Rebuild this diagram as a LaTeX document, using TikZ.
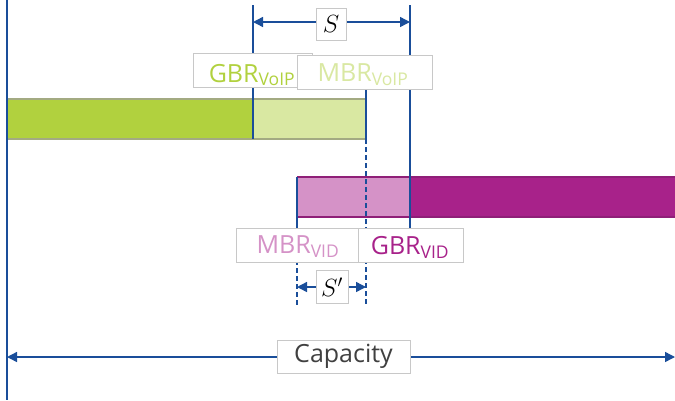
\documentclass[tikz,border=0pt]{standalone}
\usepackage{fontspec}
\setmainfont{Open Sans}
\usetikzlibrary{arrows.meta}

\definecolor{markblue}{HTML}{1A4E9A}
\definecolor{voipgbr}{HTML}{B1D13E}
\definecolor{voipmbr}{HTML}{D9E8A2}
\definecolor{voipedge}{HTML}{A3AA82}
\definecolor{vidgbr}{HTML}{A8228A}
\definecolor{vidmbr}{HTML}{D592C7}
\definecolor{videdge}{HTML}{8F1F78}
\definecolor{boxgray}{HTML}{C8C8C8}
\definecolor{capgray}{HTML}{404040}

\tikzset{
  marker/.style={draw=markblue, line width=1.4pt},
  dashmark/.style={marker, dash pattern=on 5pt off 3pt},
  dimline/.style={marker, {Triangle[length=10pt,width=10pt]}-{Triangle[length=10pt,width=10pt]}},
  tagbox/.style={draw=boxgray, fill=white, line width=0.6pt, inner sep=0pt, minimum height=34pt},
  ratetext/.style={font=\fontsize{25}{27}\selectfont},
}

\begin{document}
\begin{tikzpicture}[x=1pt,y=-1pt]
\useasboundingbox (0,0) rectangle (675,400);

% the two bars
\fill[voipgbr] (7,99) rectangle (253,139);
\fill[voipmbr] (253,99) rectangle (366,139);
\draw[voipedge, line width=1.2pt] (7,99) -- (366,99) (7,139) -- (366,139);
\fill[vidmbr] (297,177) rectangle (410,217);
\fill[vidgbr] (410,177) rectangle (675,217);
\draw[videdge, line width=1.2pt] (297,177) -- (675,177) (297,217) -- (675,217);

% marker lines
\coordinate (c0t) at (7,0);
\coordinate (c0b) at (7,400);
\coordinate (gvt) at (253,5);
\coordinate (gvb) at (253,139);
\coordinate (mvt) at (366,88);
\coordinate (mvm) at (366,139);
\coordinate (mvb) at (366,305);
\coordinate (gdt) at (410,5);
\coordinate (gdb) at (410,228);
\coordinate (mdt) at (297,177);
\coordinate (mdm) at (297,228);
\coordinate (mdb) at (297,305);
\coordinate (cend) at (675,357);

\draw[marker] (c0t) -- (c0b);
\draw[marker] (gvt) -- (gvb);
\draw[marker] (gdt) -- (gdb);
\draw[marker] (mvt) -- (mvm);
\draw[dashmark] (mvm) -- (mvb);
\draw[marker] (mdt) -- (mdm);
\draw[dashmark] (mdm) -- (mdb);

% labels of the rates
\node[tagbox, minimum width=119pt] (gbrvoip) at (252.5,70.5) {};
\node[tagbox, minimum width=135pt] (mbrvoip) at (364.5,72) {};
\node[ratetext, text=voipgbr] at (252,75) {GBR\textsubscript{VoIP}};
\node[ratetext, text=voipmbr] at (363,75) {MBR\textsubscript{VoIP}};

\node[tagbox, minimum width=122pt] (mbrvid) at (297,245) {};
\node[tagbox, minimum width=105pt] (gbrvid) at (410.5,245) {};
\node[ratetext, text=vidmbr] at (298,247) {MBR\textsubscript{VID}};
\node[ratetext, text=vidgbr] at (410,247) {GBR\textsubscript{VID}};

% the spans
\coordinate (sl) at (253,22);
\coordinate (sr) at (410,22);
\draw[dimline] (sl) -- (sr);
\node[tagbox, minimum width=30pt, minimum height=32pt, font=\fontsize{27}{29}\selectfont] (s) at (331,24) {$S$};

\coordinate (pl) at (297,287);
\coordinate (pr) at (366,287);
\draw[dimline] (pl) -- (pr);
\node[tagbox, minimum width=32pt, minimum height=33pt, font=\fontsize{27}{29}\selectfont] (sp) at (332,287) {$S'$};

\coordinate (cl) at (7,357);
\draw[dimline] (cl) -- (cend);
\node[tagbox, minimum width=133pt, minimum height=33pt, text=capgray, font=\fontsize{25}{27}\selectfont] (cap) at (343.5,356.5) {\raisebox{-2pt}{Capacity}};
\end{tikzpicture}
\end{document}
